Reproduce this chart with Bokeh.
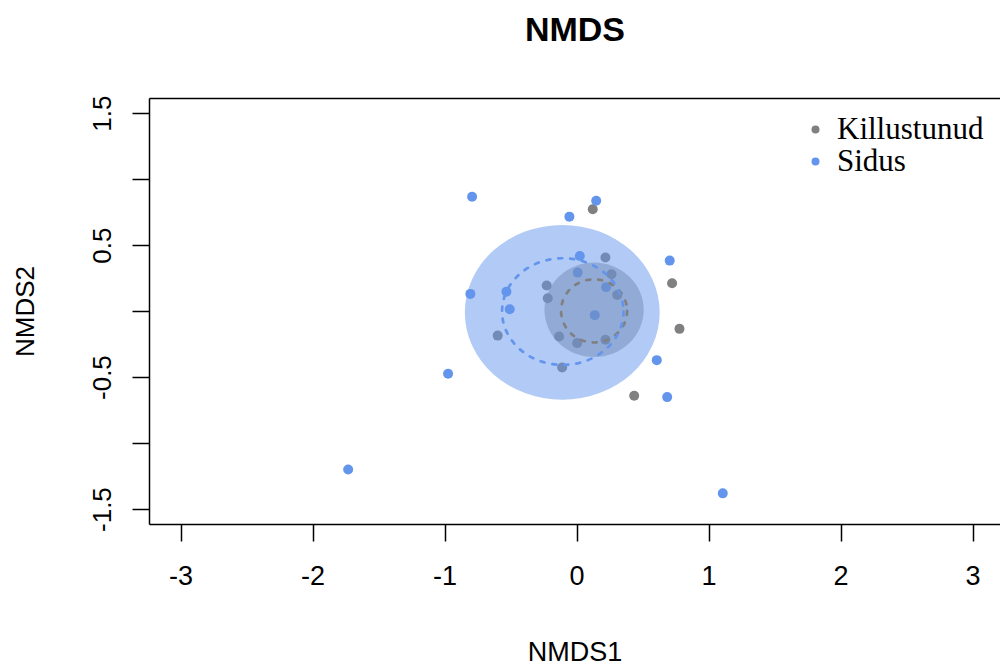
from bokeh.plotting import figure
from bokeh.models import Range1d, FixedTicker, LinearAxis, Legend, LegendItem
from bokeh.embed import file_html
from bokeh.resources import INLINE

# --- data -----------------------------------------------------------------
title_text = "NMDS"

killustunud_x = [0.119, 0.215, 0.261, 0.720, -0.230, -0.222, 0.304, 0.776,
                 -0.601, -0.136, 0.001, 0.215, -0.113, 0.433]
killustunud_y = [0.775, 0.410, 0.283, 0.215, 0.197, 0.101, 0.126, -0.131,
                 -0.182, -0.189, -0.239, -0.214, -0.424, -0.638]

sidus_x = [-0.795, 0.145, -0.058, 0.021, 0.702, -0.808, -0.535, -0.510,
           0.005, 0.220, 0.134, -0.977, 0.604, 0.683, -1.734, 1.104]
sidus_y = [0.870, 0.840, 0.719, 0.421, 0.386, 0.134, 0.151, 0.018,
           0.295, 0.185, -0.027, -0.471, -0.368, -0.648, -1.197, -1.377]

# ellipses: [Killustunud, Sidus]
groups = ["Killustunud", "Sidus"]
colors = ["#808080", "#6495ED"]
fill_cx = [0.129, -0.112]
fill_cy = [0.013, -0.006]
fill_w = [0.752, 1.476]
fill_h = [0.716, 1.324]
dash_cx = [0.129, -0.108]
dash_cy = [0.005, 0.000]
dash_w = [0.500, 0.920]
dash_h = [0.479, 0.808]

x_ticks = [-3, -2, -1, 0, 1, 2, 3]
x_tick_labels = {-3: "-3", -2: "-2", -1: "-1", 0: "0", 1: "1", 2: "2", 3: "3"}
y_ticks = [-1.5, -1.0, -0.5, 0.0, 0.5, 1.0, 1.5]
y_tick_labels = {-1.5: "-1.5", -1.0: "", -0.5: "-0.5", 0.0: "", 0.5: "0.5", 1.0: "", 1.5: "1.5"}

# --- figure ---------------------------------------------------------------
p = figure(width=1000, height=669, x_range=Range1d(-3.239, 3.208),
           y_range=Range1d(-1.613, 1.614), output_backend="svg",
           toolbar_location=None,
           min_border_left=149, min_border_right=0,
           min_border_top=98, min_border_bottom=144)
p.background_fill_color = "white"
p.border_fill_color = "white"
p.outline_line_color = None
p.xgrid.visible = False
p.ygrid.visible = False

FONT = "Liberation Sans"

xa = p.xaxis[0]
xa.ticker = FixedTicker(ticks=x_ticks)
xa.major_label_overrides = dict(x_tick_labels)
xa.axis_label = "NMDS1"
ya = p.yaxis[0]
ya.ticker = FixedTicker(ticks=y_ticks)
ya.axis_label = "NMDS2"
ya.major_label_overrides = dict(y_tick_labels)
ya.major_label_orientation = "vertical"

for ax in (xa, ya):
    ax.axis_line_color = "black"
    ax.axis_line_width = 1.5
    ax.major_tick_line_color = "black"
    ax.major_tick_line_width = 1.5
    ax.major_tick_in = 0
    ax.major_tick_out = 17
    ax.minor_tick_line_color = None
    ax.major_label_text_font = FONT
    ax.major_label_text_color = "black"
    ax.axis_label_text_font = FONT
    ax.axis_label_text_font_style = "normal"
    ax.axis_label_text_color = "black"

xa.major_label_text_font_size = "27px"
xa.axis_label_text_font_size = "27px"
ya.major_label_text_font_size = "26px"
ya.axis_label_text_font_size = "26px"
xa.major_label_standoff = 24
xa.axis_label_standoff = 49
ya.major_label_standoff = 21
ya.axis_label_standoff = 51

# top edge of the box, carrying the chart title as its label
top = LinearAxis(ticker=FixedTicker(ticks=[]), axis_line_color="black",
                 axis_line_width=1.5, major_tick_line_color=None,
                 minor_tick_line_color=None, major_label_standoff=0,
                 major_tick_out=0, major_tick_in=0,
                 axis_label=title_text, axis_label_text_font=FONT,
                 axis_label_text_font_size="34px", axis_label_text_font_style="bold",
                 axis_label_text_color="black", axis_label_standoff=51)
p.add_layout(top, "above")

# points
r_k = p.scatter(killustunud_x, killustunud_y, size=10, color=colors[0], line_color=None)
r_s = p.scatter(sidus_x, sidus_y, size=10, color=colors[1], line_color=None)

# filled ellipses (gray first, then blue over it)
for i in range(2):
    p.ellipse(x=[fill_cx[i]], y=[fill_cy[i]], width=[fill_w[i]], height=[fill_h[i]],
              fill_color=colors[i], fill_alpha=0.5, line_color=None)

# dashed ellipses
for i in range(2):
    p.ellipse(x=[dash_cx[i]], y=[dash_cy[i]], width=[dash_w[i]], height=[dash_h[i]],
              fill_color=None, line_color=colors[i], line_width=2.7,
              line_dash="4 8", line_cap="round")

# one legend box per group, so that the row pitch can follow the reference
legend_pos = [(656, 377), (656, 345)]
for i, r in enumerate([r_k, r_s]):
    lg = Legend(items=[LegendItem(label=groups[i], renderers=[r])],
                location=legend_pos[i])
    lg.border_line_color = None
    lg.background_fill_alpha = 0
    lg.label_text_font = "Liberation Serif"
    lg.label_text_font_size = "31px"
    lg.label_text_color = "black"
    lg.glyph_width = 20
    lg.glyph_height = 30
    lg.label_standoff = 12
    lg.padding = 14
    lg.margin = 0
    p.add_layout(lg)

open("out.html", "w").write(file_html(p, INLINE))
